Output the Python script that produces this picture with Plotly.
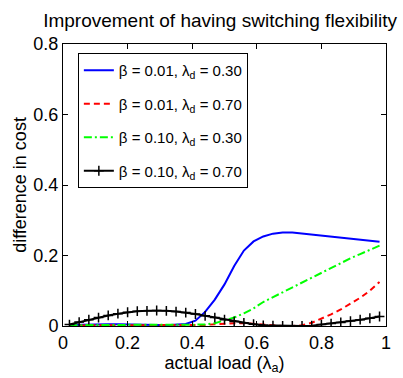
import plotly.graph_objects as go

x_load = [0.02, 0.05, 0.08, 0.11, 0.14, 0.17, 0.20, 0.23, 0.26, 0.29, 0.32,
          0.35, 0.38, 0.41, 0.44, 0.47, 0.50, 0.53, 0.56, 0.59, 0.62, 0.65,
          0.68, 0.71, 0.74, 0.77, 0.80, 0.83, 0.86, 0.89, 0.92, 0.95, 0.98]

blue_b001_d030 = [0.003, 0.004, 0.005, 0.005, 0.005, 0.005, 0.005, 0.004, 0.004, 0.003, 0.002,
                  0.003, 0.006, 0.015, 0.040, 0.075, 0.118, 0.170, 0.214, 0.240, 0.254, 0.262,
                  0.265, 0.265, 0.262, 0.259, 0.256, 0.253, 0.250, 0.246, 0.243, 0.241, 0.239]

red_b001_d070 = [0.001, 0.002, 0.002, 0.002, 0.002, 0.002, 0.002, 0.002, 0.002, 0.002, 0.002,
                 0.002, 0.002, 0.002, 0.003, 0.005, 0.007, 0.008, 0.008, 0.006, 0.003, 0.001,
                 0.000, 0.000, 0.002, 0.009, 0.020, 0.033, 0.047, 0.063, 0.080, 0.100, 0.125]

green_b010_d030 = [0.002, 0.003, 0.003, 0.003, 0.003, 0.003, 0.003, 0.003, 0.003, 0.002, 0.002,
                   0.002, 0.002, 0.003, 0.004, 0.008, 0.015, 0.024, 0.036, 0.050, 0.068, 0.082,
                   0.096, 0.110, 0.124, 0.138, 0.151, 0.165, 0.179, 0.192, 0.204, 0.216, 0.228]

black_b010_d070 = [0.004, 0.011, 0.018, 0.024, 0.030, 0.035, 0.039, 0.042, 0.043, 0.044, 0.043,
                   0.041, 0.038, 0.034, 0.029, 0.024, 0.018, 0.013, 0.009, 0.005, 0.002, 0.001,
                   0.000, 0.000, 0.000, 0.001, 0.004, 0.007, 0.010, 0.014, 0.018, 0.022, 0.027]

series_names = ["β = 0.01, λ<sub>d</sub> = 0.30", "β = 0.01, λ<sub>d</sub> = 0.70",
                "β = 0.10, λ<sub>d</sub> = 0.30", "β = 0.10, λ<sub>d</sub> = 0.70"]

x_ticks = [0, 0.2, 0.4, 0.6, 0.8, 1]
x_tick_labels = ["0", "0.2", "0.4", "0.6", "0.8", "1"]
y_ticks = [0, 0.2, 0.4, 0.6, 0.8]
y_tick_labels = ["0", "0.2", "0.4", "0.6", "0.8"]

FONT = "Arial"

fig = go.Figure()
fig.add_trace(go.Scatter(x=x_load, y=blue_b001_d030, mode="lines", name=series_names[0],
                         line=dict(color="#0000ff", width=2), legendgroup="a"))
fig.add_trace(go.Scatter(x=x_load, y=red_b001_d070, mode="lines", name=series_names[1],
                         line=dict(color="#ff0000", width=2, dash="6px,4px"), legendgroup="b"))
fig.add_trace(go.Scatter(x=x_load, y=green_b010_d030, mode="lines", name=series_names[2],
                         line=dict(color="#00ff00", width=2, dash="8px,3px,2px,3px"), legendgroup="c"))
fig.add_trace(go.Scatter(x=x_load, y=black_b010_d070, mode="lines+markers", name=series_names[3],
                         line=dict(color="#000000", width=2),
                         marker=dict(symbol="cross-thin", size=7, color="#000000",
                                     line=dict(color="#000000", width=1.5)), legendgroup="d"))

fig.update_layout(
    width=403, height=378,
    margin=dict(l=63, r=17, t=44, b=52, autoexpand=False),
    paper_bgcolor="white", plot_bgcolor="white",
    font=dict(family=FONT, size=18, color="black"),
    title=dict(text="Improvement of having switching flexibility",
               x=0.546, xref="container", xanchor="center",
               y=0.945, yref="container", yanchor="middle",
               font=dict(family=FONT, size=19, color="black")),
    showlegend=True,
    legend=dict(x=0.046, y=0.968, xanchor="left", yanchor="top",
                bgcolor="white", bordercolor="black", borderwidth=1,
                font=dict(family=FONT, size=15, color="black"),
                traceorder="grouped", tracegroupgap=11, itemwidth=30),
)
fig.update_xaxes(range=[0, 1], tickvals=x_ticks, ticktext=x_tick_labels, automargin=False,
                 ticks="inside", ticklen=5, tickcolor="black", tickwidth=1,
                 showline=True, linecolor="black", linewidth=1, mirror="ticks",
                 showgrid=False, zeroline=False,
                 tickfont=dict(family=FONT, size=18),
                 title=dict(text="actual load (λ<sub>a</sub>)", standoff=0,
                            font=dict(family=FONT, size=18)))
fig.update_yaxes(range=[0, 0.8], tickvals=y_ticks, ticktext=y_tick_labels, automargin=False,
                 ticks="inside", ticklen=5, tickcolor="black", tickwidth=1,
                 showline=True, linecolor="black", linewidth=1, mirror="ticks",
                 showgrid=False, zeroline=False,
                 tickfont=dict(family=FONT, size=18),
                 title=dict(text="difference in cost", standoff=2,
                            font=dict(family=FONT, size=18)))

fig.write_html("out.html", config={"displayModeBar": False},
               post_script="document.body.style.margin='0';")
